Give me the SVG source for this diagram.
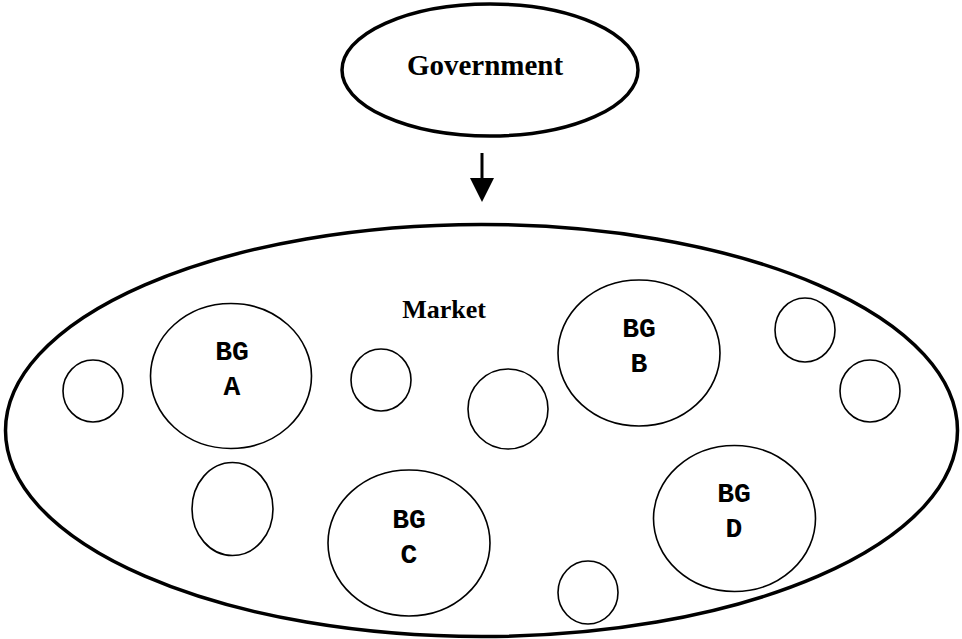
<svg xmlns="http://www.w3.org/2000/svg" width="962" height="639" viewBox="0 0 962 639">
<style>
.big{fill:#fff;stroke:#000;stroke-width:3.5}
.c{fill:none;stroke:#000;stroke-width:1.6}
.t{font-weight:bold;text-anchor:middle;fill:#000}
.bg{font-weight:bold;font-size:28px;text-anchor:middle;fill:#000}
</style>
<rect width="962" height="639" fill="#fff"/>
<g id="government">
<ellipse class="big" cx="490" cy="70" rx="148" ry="66" stroke-width="3"/>
<text class="t" x="485" y="75" font-size="29" font-family="'Liberation Serif', 'Times New Roman', serif">Government</text>
</g>
<g id="connectors">
<line x1="482" y1="153" x2="482" y2="180" stroke="#000" stroke-width="3"/>
<path d="M470,178 L494,178 L482,202 Z" fill="#000"/>
</g>
<g id="market">
<ellipse class="big" cx="481.5" cy="430.5" rx="476" ry="206"/>
<text class="t" x="444" y="318" font-size="26" font-family="'Liberation Serif', 'Times New Roman', serif">Market</text>
</g>
<g id="bg-a" font-family="'Liberation Mono', 'Courier New', monospace">
<ellipse class="c" cx="231" cy="376" rx="80.5" ry="72.5"/>
<text class="bg" x="232" y="360">BG</text>
<text class="bg" x="232" y="395">A</text>
</g>
<g id="bg-b" font-family="'Liberation Mono', 'Courier New', monospace">
<ellipse class="c" cx="639" cy="353" rx="81" ry="73"/>
<text class="bg" x="639" y="337">BG</text>
<text class="bg" x="639" y="372">B</text>
</g>
<g id="bg-c" font-family="'Liberation Mono', 'Courier New', monospace">
<ellipse class="c" cx="409" cy="543" rx="81" ry="73"/>
<text class="bg" x="409" y="528">BG</text>
<text class="bg" x="409" y="563">C</text>
</g>
<g id="bg-d" font-family="'Liberation Mono', 'Courier New', monospace">
<ellipse class="c" cx="734.5" cy="518.5" rx="81" ry="73"/>
<text class="bg" x="734" y="502">BG</text>
<text class="bg" x="734" y="537">D</text>
</g>
<g id="firm-1"><ellipse class="c" cx="93" cy="391" rx="30" ry="31"/></g>
<g id="firm-2"><ellipse class="c" cx="381" cy="380" rx="30" ry="31"/></g>
<g id="firm-3"><ellipse class="c" cx="508" cy="409" rx="40" ry="40"/></g>
<g id="firm-4"><ellipse class="c" cx="805" cy="330" rx="30" ry="32"/></g>
<g id="firm-5"><ellipse class="c" cx="870" cy="391" rx="30" ry="31"/></g>
<g id="firm-6"><ellipse class="c" cx="232.5" cy="509" rx="40.5" ry="46.5"/></g>
<g id="firm-7"><ellipse class="c" cx="588" cy="592.5" rx="30" ry="31.5"/></g>
</svg>
